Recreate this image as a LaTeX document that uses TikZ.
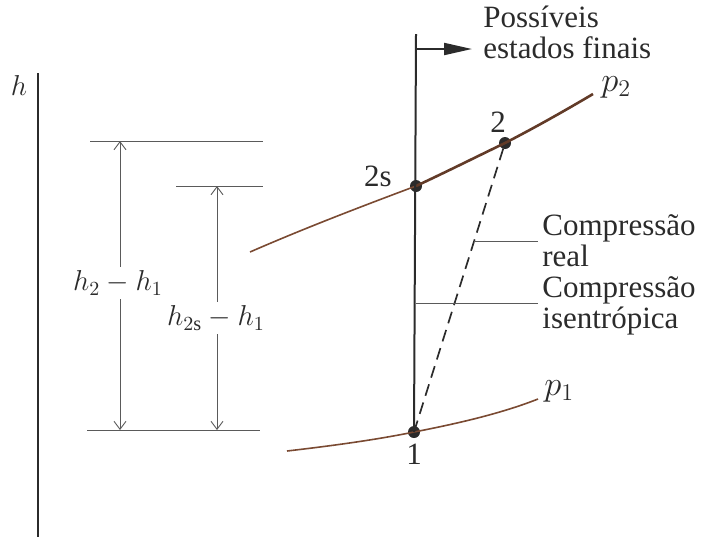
\documentclass[tikz,border=0pt]{standalone}
\usepackage{fontspec}
\setmainfont{Liberation Serif}
\usepackage{tikz}
\usetikzlibrary{arrows.meta,positioning,calc}
\definecolor{inkgray}{HTML}{2B2B2B}
\definecolor{dimgray}{HTML}{5A5A5A}
\definecolor{isobar}{HTML}{7A4A32}
\tikzset{
  lbl/.style={inner sep=0pt, text=inkgray, font=\fontsize{15.5}{15.5}\selectfont},
  mathlbl/.style={inner sep=2pt, text=inkgray, fill=white, font=\fontsize{14.5}{15}\selectfont},
  note/.style={lbl, align=left, anchor=base west},
  state/.style={circle, fill=inkgray, inner sep=0pt, minimum size=6pt},
  dimline/.style={draw=dimgray, line width=0.45pt},
  dimarrow/.style={dimline, {Straight Barb[length=4pt,width=6pt]}-{Straight Barb[length=4pt,width=6pt]}},
  mainline/.style={draw=inkgray, line width=1pt},
  isoline/.style={draw=isobar, line width=0.8pt},
  isothick/.style={draw=isobar!80!black, line width=1.3pt},
  leader/.style={draw=dimgray, line width=0.5pt},
  pointer/.style={mainline, -{Triangle[length=14pt,width=6pt]}}
}

\begin{document}
\begin{tikzpicture}[x=0.5pt,y=-0.5pt]
  \useasboundingbox (0,0) rectangle (710,537);

  % enthalpy axis
  \coordinate (htop) at (38,73);
  \coordinate (hbot) at (38,537);
  \draw[mainline] (htop) -- (hbot);
  \node[lbl, font=\fontsize{14}{14}\selectfont] (hlab) at (19,85) {$h$};

  % states
  \node[state] (s1) at (414,432) {};
  \node[state] (s2s) at (416,186) {};
  \node[state] (s2) at (505,143) {};
  \node[lbl] (l1) at (414,454) {1};
  \node[lbl] (l2s) at (378,176) {2s};
  \node[lbl] (l2) at (498,122) {2};

  % isobars
  \coordinate (p2a) at (250,252);
  \coordinate (p2b) at (593,94);
  \coordinate (p1a) at (287,451);
  \coordinate (p1b) at (538,399);
  \draw[isoline] (p2a) .. controls (305,228) and (360,207) .. (s2s.center);
  \draw[isothick] (s2s.center) .. controls (446,172) and (476,157) .. (s2.center)
    .. controls (536,127) and (566,110) .. (p2b);
  \draw[isoline] (p1a) .. controls (330,446) and (375,440) .. (s1.center)
    .. controls (455,424) and (500,414) .. (p1b);
  \node[lbl, anchor=west, font=\fontsize{17}{17}\selectfont] (p2lab) at (601,87) {$p_2$};
  \node[lbl, anchor=west, font=\fontsize{17}{17}\selectfont] (p1lab) at (544,391) {$p_1$};

  % isentropic line and real compression
  \coordinate (vtop) at (416,34);
  \draw[mainline] (vtop) -- (s1.center);
  \draw[mainline, line width=0.85pt, dash pattern=on 6pt off 3.5pt] (s1.center) -- (s2.center);

  % possible final states
  \coordinate (pstart) at (416,49);
  \coordinate (pend) at (472,49);
  \draw[pointer] (pstart) -- (pend);
  \node[note] (finais) at (483,58) {Possíveis\\estados finais};

  % leaders
  \coordinate (rfoot) at ($(s1)!0.66!(s2)$);
  \coordinate (rend) at (538,240);
  \draw[leader] (rfoot) -- (rend |- rfoot);
  \node[note] (real) at (542,266) {Compressão\\real};
  \coordinate (ifoot) at (416,303);
  \draw[leader] (ifoot) -- (538,303);
  \node[note] (isen) at (542,328) {Compressão\\isentrópica};

  % enthalpy differences
  \coordinate (d2a) at (90,141);
  \coordinate (d2b) at (263,141);
  \coordinate (dsa) at (176,186);
  \coordinate (dsb) at (263,186);
  \coordinate (d1a) at (87,430);
  \coordinate (d1b) at (260,430);
  \draw[dimline] (d2a) -- (d2b);
  \draw[dimline] (dsa) -- (dsb);
  \draw[dimline] (d1a) -- (d1b);
  \draw[dimarrow] (120,141) -- (120,430);
  \draw[dimarrow] (217,186) -- (217,430);
  \node[mathlbl] (dh) at (118,283) {$h_2 - h_1$};
  \node[mathlbl] (dhs) at (216,318) {$h_{2\mathrm{s}} - h_1$};
\end{tikzpicture}
\end{document}
